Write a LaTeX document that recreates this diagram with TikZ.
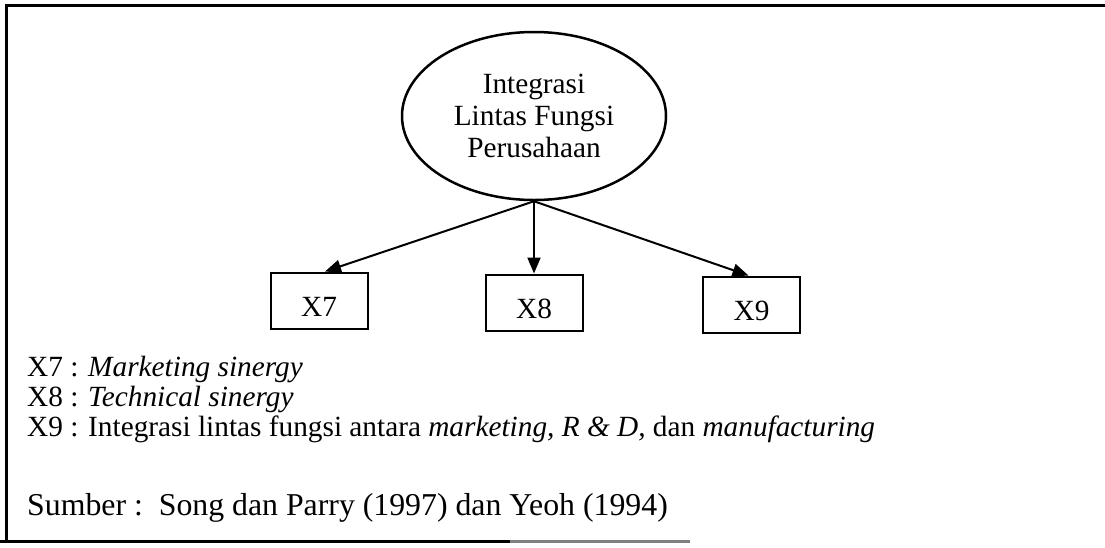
\documentclass[tikz,border=0pt]{standalone}
\usepackage{fontspec}
\setmainfont{Liberation Serif}
\usetikzlibrary{shapes.geometric,arrows.meta,calc}
\newcommand\obslabel[1]{\raisebox{-6pt}[\height][\depth]{#1}\hspace{18pt}}
\begin{document}
\begin{tikzpicture}[x=1pt,y=-1pt,
  every node/.style={font=\fontsize{29.3}{32}\selectfont},
  latent/.style={draw, ellipse, line width=2.5pt, minimum width=264pt, minimum height=168pt, inner sep=0pt, align=center},
  obsbox/.style={draw, rectangle, line width=2pt, minimum width=97pt, minimum height=56pt, inner sep=0pt},
  link/.style={line width=2pt, -{Triangle[length=16pt,width=13pt]}},
  frameline/.style={line width=3pt},
  legend/.style={anchor=base west, inner sep=0pt}
]
\useasboundingbox (0,0) rectangle (1105,547);
\fill[white] (0,0) rectangle (1105,547);
% frame
\draw[frameline] (1105,5) -- (6,5) -- (6,542);
\draw[frameline] (0,541) -- (510,541);
\draw[frameline, gray] (510,541) -- (690,541);
% diagram
\node[latent] (lf) at (534,116) {Integrasi\\Lintas Fungsi\\Perusahaan};
\node[obsbox] (x7) at (319,300.5) {\obslabel{X7}};
\node[obsbox] (x8) at (534,302.5) {\obslabel{X8}};
\node[obsbox] (x9) at (751.5,304.5) {\obslabel{X9}};
\coordinate (fork) at (lf.south);
\draw[link] (fork) -- ($(x7.north)+(6,0)$);
\draw[link] (fork) -- (x8.north);
\draw[link] (fork) -- ($(x9.north)+(-3,0)$);
% legend
\node[legend] (l7) at (27,376) {X7 : \textit{Marketing sinergy}};
\node[legend] (l8) at (27,406) {X8 : \textit{Technical sinergy}};
\node[legend] (l9) at (27,436) {X9 : Integrasi lintas fungsi antara \textit{marketing, R \& D,} dan \textit{manufacturing}};
\node[legend, font=\fontsize{31.8}{34}\selectfont] (srcnote) at (27,515) {Sumber :\ \ Song dan Parry (1997) dan Yeoh (1994)};
\end{tikzpicture}
\end{document}
